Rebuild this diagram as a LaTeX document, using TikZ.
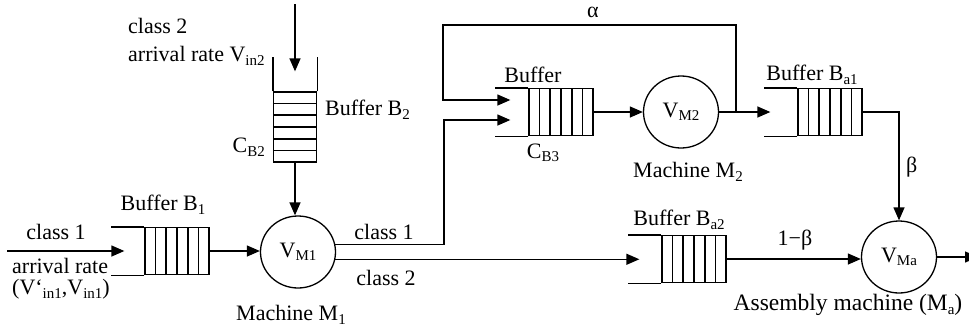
\documentclass[tikz,border=0pt]{standalone}
\usepackage{fontspec}
\setmainfont{Liberation Serif}
\usetikzlibrary{arrows.meta, shapes.geometric, calc}

\newcommand{\lo}[1]{\raisebox{-0.35ex}{\fontsize{15}{15}\selectfont #1}}

\begin{document}
\begin{tikzpicture}[
    x=1pt, y=-1pt,
    every node/.style={font=\fontsize{22}{21}\selectfont, inner sep=0pt},
]
\useasboundingbox (0,0) rectangle (969,333);

% ---------------------------------------------------------------- styles
\tikzset{
    line/.style={line width=1.3pt},
    flow/.style={line, -{Triangle[length=13pt, width=11pt]}},
    hbuf/.style={draw, line, minimum width=64pt, minimum height=47pt},
    vbuf/.style={draw, line, minimum width=43pt, minimum height=70pt},
    machine/.style={draw, line, ellipse, minimum width=75pt,
                    minimum height=72pt},
}

% ----------------------------------------------------------------------
% buffers and machines, placed in pixel coordinates (y runs downwards)
% ----------------------------------------------------------------------
\node[hbuf] (b1)  at (177,251) {};
\node[vbuf] (b2)  at (295,127) {};
\node[hbuf] (b3)  at (561,112) {};
\node[hbuf] (ba1) at (830,112) {};
\node[hbuf] (ba2) at (694,259) {};

\node[machine] (m1) at (298,252) {V\lo{M1}};
\node[machine] (m2) at (681,112) {V\lo{M2}};
\node[machine] (ma) at (899,257) {V\lo{Ma}};

% the slots, and the open mouth of each buffer
\foreach \buf in {b1, b3, ba1, ba2} {
    \foreach \i in {1,...,5}
        \draw[line] ($(\buf.south west)!\i/6!(\buf.south east)$)
                 -- ($(\buf.north west)!\i/6!(\buf.north east)$);
    \draw[line] (\buf.north west) -- ++(-33,0);
    \draw[line] (\buf.south west) -- ++(-33,0);
}
\foreach \i in {1,...,5}
    \draw[line] ($(b2.north west)!\i/6!(b2.south west)$)
             -- ($(b2.north east)!\i/6!(b2.south east)$);
\draw[line] (b2.north west) -- ++(0,-34);
\draw[line] (b2.north east) -- ++(0,-34);

% ----------------------------------------------------------------------
% flows
% ----------------------------------------------------------------------
\coordinate (in1)    at (7,251);
\coordinate (in2)    at (295,4);
\coordinate (split1) at (444,0);
\coordinate (loop)   at (443,25);
\coordinate (split2) at (736,112);
\coordinate (ba2in)  at ([xshift=-22pt]ba2.west);
\coordinate (out)    at (978,257);

\draw[flow] (in1) -- ([xshift=-20pt]b1.west);
\draw[flow] (b1.east) -- (b1.east -| m1.west);
\draw[flow] (in2) -- ([yshift=20pt]b2.north);
\draw[flow] (b2.south) -- (b2.south |- m1.north);

% class 1 goes up to M2's buffer, class 2 straight on to B_a2
\draw[flow] (m1.11) -- (m1.11 -| split1)
            |- ([xshift=-18pt, yshift=-8pt]b3.west);
\draw[flow] (m1.-11) -- (m1.-11 -| ba2in);

\draw[flow] (b3.east) -- (m2.west);
\draw[flow] (m2.east) -- ([xshift=-27pt]ba1.west);
% the share alpha is fed back round M2
\draw[flow] (split2) |- (loop) |- ([xshift=-18pt, yshift=12pt]b3.west);

\draw[flow] (ba1.east) -| (ma.north);
\draw[flow] (ba2.east) -- (ba2.east -| ma.west);
\draw[flow] (ma.east) -- (out);

% ----------------------------------------------------------------------
% labels
% ----------------------------------------------------------------------
\node[anchor=west] (cls2in) at (128,26) {class 2};
\node[anchor=west] (rate2)  at (128,56) {arrival rate V\lo{in2}};
\node[anchor=east] (cb2)    at (265,147) {C\lo{B2}};
\node[anchor=west] (lb2)    at (325,110) {Buffer B\lo{2}};

\node (cls1in) at (56,232) {class 1};
\node[anchor=north west, align=left] (rate1) at (12,258)
    {arrival rate\\(V\char"60\lo{in1},V\lo{in1})};
\node (lb1) at (163,205) {Buffer B\lo{1}};
\node (lm1) at (291,315) {Machine M\lo{1}};

\node (cls1) at (384,232) {class 1};
\node (cls2) at (386,278) {class 2};
\node (alpha) at (593,12) {α};

\node (lb3) at (533,75) {Buffer};
\node (cb3) at (543,153) {C\lo{B3}};
\node (lm2) at (688,172) {Machine M\lo{2}};

\node (lba1) at (812,75) {Buffer B\lo{a1}};
\node[anchor=west] (beta) at (906,167) {β};
\node (lba2) at (679,220) {Buffer B\lo{a2}};
\node (omb) at (795,240) {1−β};
\node[font=\fontsize{23.5}{24}\selectfont] (lma) at (848,305)
    {Assembly machine (M\lo{a})};

\end{tikzpicture}
\end{document}
